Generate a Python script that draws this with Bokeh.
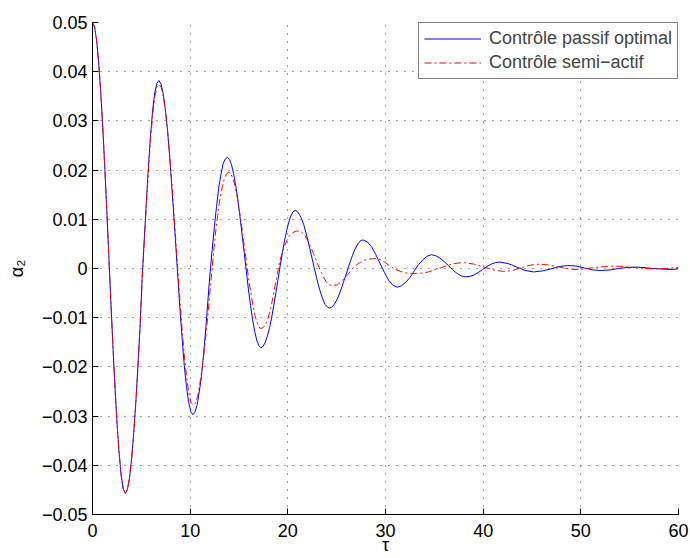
from bokeh.plotting import figure
from bokeh.models import Range1d, FixedTicker, Legend, LegendItem
from bokeh.embed import file_html
from bokeh.resources import INLINE

# ---- data ----
X_TICKS = [0, 10, 20, 30, 40, 50, 60]
X_TICK_LABELS = ["0", "10", "20", "30", "40", "50", "60"]
Y_TICKS = [-0.05, -0.04, -0.03, -0.02, -0.01, 0.0, 0.01, 0.02, 0.03, 0.04, 0.05]
Y_TICK_LABELS = ["\u22120.05", "\u22120.04", "\u22120.03", "\u22120.02", "\u22120.01", "0",
                 "0.01", "0.02", "0.03", "0.04", "0.05"]
X_LABEL = "\u03c4"
Y_LABEL = "\u03b1\u2082"
SERIES_NAMES = ["Contr\u00f4le passif optimal", "Contr\u00f4le semi\u2212actif"]

# Contrôle passif optimal (blue, solid)
BLUE_T = [0.00, 0.21, 0.42, 0.63, 0.84, 1.05, 1.26, 1.47,
          1.68, 1.89, 2.10, 2.31, 2.52, 2.73, 2.94, 3.15,
          3.36, 3.58, 3.79, 4.01, 4.22, 4.44, 4.65, 4.87,
          5.08, 5.30, 5.51, 5.73, 5.94, 6.16, 6.37, 6.59,
          6.80, 7.02, 7.23, 7.45, 7.67, 7.89, 8.10, 8.32,
          8.54, 8.76, 8.97, 9.19, 9.40, 9.62, 9.84, 10.06,
          10.27, 10.49, 10.71, 10.93, 11.15, 11.37, 11.59, 11.81,
          12.03, 12.26, 12.48, 12.70, 12.92, 13.14, 13.36, 13.58,
          13.80, 14.02, 14.23, 14.45, 14.66, 14.88, 15.09, 15.31,
          15.53, 15.75, 15.96, 16.18, 16.39, 16.61, 16.82, 17.04,
          17.25, 17.47, 17.69, 17.91, 18.13, 18.35, 18.56, 18.78,
          19.00, 19.22, 19.44, 19.66, 19.88, 20.09, 20.31, 20.53,
          20.75, 20.97, 21.19, 21.41, 21.63, 21.84, 22.06, 22.28,
          22.50, 22.72, 22.94, 23.16, 23.38, 23.59, 23.81, 24.03,
          24.25, 24.47, 24.68, 24.90, 25.11, 25.33, 25.54, 25.76,
          25.98, 26.19, 26.41, 26.63, 26.84, 27.06, 27.27, 27.49,
          27.70, 28.14, 28.58, 29.01, 29.45, 29.89, 30.33, 30.76,
          31.20, 31.64, 32.08, 32.51, 32.95, 33.39, 33.83, 34.26,
          34.70, 35.14, 35.58, 36.01, 36.45, 36.89, 37.33, 37.76,
          38.20, 38.64, 39.08, 39.51, 39.95, 40.39, 40.83, 41.26,
          41.70, 42.56, 43.43, 44.29, 45.15, 46.03, 46.90, 47.78,
          48.65, 49.51, 50.38, 51.24, 52.10, 52.98, 53.85, 54.73,
          55.60, 56.46, 57.33, 58.19, 59.05, 60.00]
BLUE_A = [0.0500, 0.0491, 0.0464, 0.0419, 0.0360, 0.0287, 0.0205, 0.0115,
          0.0022, -0.0072, -0.0162, -0.0244, -0.0317, -0.0376, -0.0421, -0.0448,
          -0.0457, -0.0449, -0.0425, -0.0386, -0.0334, -0.0271, -0.0198, -0.0119,
          -0.0020, 0.0058, 0.0135, 0.0208, 0.0270, 0.0322, 0.0357, 0.0376,
          0.0382, 0.0375, 0.0356, 0.0325, 0.0283, 0.0231, 0.0172, 0.0109,
          0.0043, -0.0024, -0.0087, -0.0146, -0.0198, -0.0240, -0.0271, -0.0291,
          -0.0297, -0.0292, -0.0277, -0.0251, -0.0220, -0.0175, -0.0125, -0.0067,
          -0.0010, 0.0039, 0.0085, 0.0126, 0.0163, 0.0190, 0.0212, 0.0222,
          0.0226, 0.0222, 0.0211, 0.0193, 0.0169, 0.0140, 0.0107, 0.0070,
          0.0033, -0.0005, -0.0042, -0.0075, -0.0104, -0.0128, -0.0146, -0.0157,
          -0.0161, -0.0158, -0.0150, -0.0137, -0.0120, -0.0099, -0.0075, -0.0049,
          -0.0022, 0.0006, 0.0032, 0.0056, 0.0077, 0.0094, 0.0107, 0.0115,
          0.0118, 0.0116, 0.0110, 0.0101, 0.0089, 0.0074, 0.0057, 0.0038,
          0.0019, 0.0000, -0.0019, -0.0036, -0.0051, -0.0063, -0.0073, -0.0078,
          -0.0080, -0.0079, -0.0075, -0.0068, -0.0060, -0.0049, -0.0037, -0.0024,
          -0.0011, 0.0002, 0.0015, 0.0027, 0.0038, 0.0046, 0.0053, 0.0057,
          0.0058, 0.0054, 0.0044, 0.0028, 0.0010, -0.0008, -0.0024, -0.0034,
          -0.0038, -0.0035, -0.0028, -0.0018, -0.0005, 0.0008, 0.0018, 0.0025,
          0.0028, 0.0026, 0.0021, 0.0014, 0.0006, -0.0003, -0.0010, -0.0015,
          -0.0017, -0.0016, -0.0013, -0.0008, -0.0002, 0.0004, 0.0009, 0.0012,
          0.0013, 0.0010, 0.0003, -0.0004, -0.0007, -0.0005, -0.0001, 0.0004,
          0.0006, 0.0005, 0.0001, -0.0003, -0.0004, -0.0003, 0.0000, 0.0002,
          0.0003, 0.0002, 0.0000, -0.0001, -0.0002, -0.0001]

# Contrôle semi-actif (red, dash-dot)
RED_T = [0.00, 0.21, 0.42, 0.63, 0.84, 1.05, 1.26, 1.47,
         1.68, 1.89, 2.10, 2.31, 2.52, 2.73, 2.94, 3.15,
         3.36, 3.58, 3.79, 4.01, 4.23, 4.44, 4.66, 4.87,
         5.09, 5.30, 5.52, 5.74, 5.95, 6.17, 6.39, 6.60,
         6.82, 7.04, 7.26, 7.47, 7.69, 7.91, 8.13, 8.34,
         8.56, 8.78, 9.00, 9.21, 9.43, 9.65, 9.87, 10.08,
         10.30, 10.53, 10.76, 10.99, 11.21, 11.44, 11.67, 11.90,
         12.13, 12.36, 12.58, 12.81, 13.04, 13.27, 13.50, 13.72,
         13.95, 14.16, 14.36, 14.57, 14.78, 14.98, 15.19, 15.40,
         15.60, 15.81, 16.01, 16.22, 16.43, 16.63, 16.84, 17.04,
         17.25, 17.49, 17.73, 17.97, 18.21, 18.45, 18.69, 18.94,
         19.18, 19.42, 19.66, 19.90, 20.14, 20.38, 20.62, 20.86,
         21.10, 21.32, 21.53, 21.75, 21.96, 22.18, 22.39, 22.61,
         22.83, 23.04, 23.26, 23.47, 23.69, 23.91, 24.12, 24.34,
         24.55, 25.08, 25.61, 26.14, 26.68, 27.21, 27.74, 28.27,
         28.80, 29.35, 29.90, 30.45, 31.00, 31.55, 32.10, 32.65,
         33.20, 33.80, 34.40, 35.00, 35.60, 36.20, 36.80, 37.40,
         38.00, 39.03, 40.05, 41.08, 42.10, 43.03, 43.95, 44.88,
         45.80, 46.70, 47.60, 48.50, 49.40, 50.40, 51.40, 52.40,
         53.40, 54.43, 55.45, 56.48, 57.50, 58.75, 60.00]
RED_A = [0.0500, 0.0491, 0.0464, 0.0419, 0.0360, 0.0287, 0.0205, 0.0115,
         0.0022, -0.0072, -0.0162, -0.0244, -0.0317, -0.0376, -0.0421, -0.0448,
         -0.0457, -0.0449, -0.0425, -0.0387, -0.0335, -0.0272, -0.0201, -0.0115,
         -0.0022, 0.0055, 0.0130, 0.0202, 0.0263, 0.0315, 0.0350, 0.0368,
         0.0374, 0.0368, 0.0349, 0.0319, 0.0279, 0.0229, 0.0173, 0.0112,
         0.0048, -0.0016, -0.0077, -0.0133, -0.0183, -0.0223, -0.0253, -0.0272,
         -0.0278, -0.0274, -0.0260, -0.0235, -0.0205, -0.0167, -0.0125, -0.0076,
         -0.0025, 0.0024, 0.0070, 0.0107, 0.0140, 0.0164, 0.0183, 0.0192,
         0.0196, 0.0193, 0.0184, 0.0169, 0.0149, 0.0125, 0.0098, 0.0068,
         0.0037, 0.0006, -0.0024, -0.0051, -0.0075, -0.0095, -0.0110, -0.0119,
         -0.0122, -0.0120, -0.0114, -0.0101, -0.0085, -0.0061, -0.0035, -0.0010,
         0.0015, 0.0032, 0.0045, 0.0057, 0.0066, 0.0071, 0.0074, 0.0076,
         0.0076, 0.0075, 0.0072, 0.0067, 0.0060, 0.0051, 0.0042, 0.0031,
         0.0021, 0.0010, -0.0001, -0.0010, -0.0019, -0.0026, -0.0031, -0.0034,
         -0.0035, -0.0033, -0.0024, -0.0012, 0.0001, 0.0010, 0.0016, 0.0019,
         0.0020, 0.0019, 0.0013, 0.0005, -0.0002, -0.0006, -0.0009, -0.0010,
         -0.0010, -0.0009, -0.0007, -0.0003, 0.0001, 0.0005, 0.0009, 0.0011,
         0.0012, 0.0009, 0.0003, -0.0003, -0.0006, -0.0004, 0.0002, 0.0007,
         0.0009, 0.0007, 0.0004, 0.0000, -0.0002, -0.0001, 0.0002, 0.0004,
         0.0005, 0.0004, 0.0002, 0.0000, -0.0001, 0.0000, 0.0002]

FONT = "Liberation Sans"
BLUE = "#0000FF"
RED = "#FF0000"
RED_DASH = "7 3 2 3"

p = figure(width=690, height=558, output_backend="svg", toolbar_location=None,
           x_range=Range1d(0, 60), y_range=Range1d(-0.05, 0.05),
           min_border_left=92, min_border_right=12, min_border_top=22, min_border_bottom=44)
p.outline_line_color = None
p.background_fill_color = "white"
p.border_fill_color = "white"

p.xaxis.ticker = FixedTicker(ticks=X_TICKS)
p.yaxis.ticker = FixedTicker(ticks=Y_TICKS)
p.xaxis.major_label_overrides = dict(zip(X_TICKS, X_TICK_LABELS))
p.yaxis.major_label_overrides = dict(zip(Y_TICKS, Y_TICK_LABELS))

for ax in (p.xaxis[0], p.yaxis[0]):
    ax.minor_tick_line_color = None
    ax.major_tick_in = 6
    ax.major_tick_out = 0
    ax.axis_line_color = "black"
    ax.major_tick_line_color = "black"
    ax.major_label_text_font = FONT
    ax.major_label_text_font_size = "18px"
    ax.major_label_text_color = "black"
    ax.axis_label_text_font = FONT
    ax.axis_label_text_font_size = "18px"
    ax.axis_label_text_font_style = "normal"
    ax.axis_label_text_color = "black"

p.xaxis.major_label_standoff = 9
p.yaxis.major_label_standoff = 5
p.xaxis.axis_label = X_LABEL
p.xaxis.axis_label_standoff = -5
p.yaxis.axis_label = Y_LABEL
p.yaxis.axis_label_standoff = 12

for g in (p.xgrid[0], p.ygrid[0]):
    g.grid_line_color = "#444444"
    g.grid_line_dash = "1 7"
    g.grid_line_width = 1

rb = p.line(BLUE_T, BLUE_A, line_color=BLUE, line_width=1)
rr = p.line(RED_T, RED_A, line_color=RED, line_width=1, line_dash=RED_DASH)

legend = Legend(items=[LegendItem(label=SERIES_NAMES[0], renderers=[rb]),
                       LegendItem(label=SERIES_NAMES[1], renderers=[rr])],
                location="top_right", margin=0, padding=5, spacing=3,
                label_standoff=8, glyph_width=57, glyph_height=21, label_height=21,
                label_text_font=FONT, label_text_font_size="18px",
                border_line_color="black", border_line_width=1,
                background_fill_color="white", background_fill_alpha=1.0)
p.add_layout(legend)

open("out.html", "w").write(file_html(p, INLINE, title="plot"))
